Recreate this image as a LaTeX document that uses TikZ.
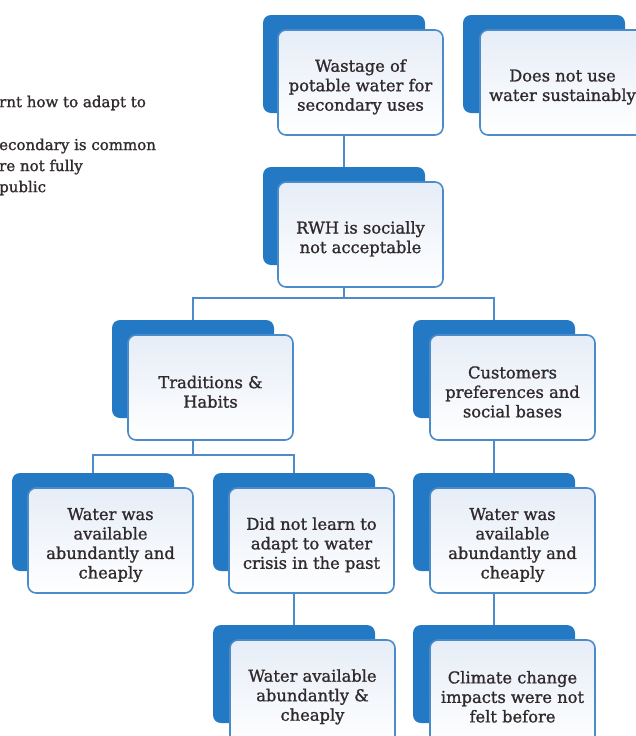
\documentclass[tikz,border=0pt]{standalone}
\usepackage{fontspec}
\setmainfont{DejaVu Serif}
\newfontfamily\cardfont{DejaVu Serif}[FakeBold=1.2]
\newcommand\lift{\rule{0pt}{21pt}}
\definecolor{backblue}{HTML}{2479C4}
\definecolor{edgeblue}{HTML}{4A8BCB}
\definecolor{linkblue}{HTML}{4D8CCB}
\definecolor{paleblue}{HTML}{E6EDF7}
\definecolor{ink}{HTML}{302A2D}
\begin{document}
\begin{tikzpicture}[x=1pt,y=-1pt,
  backbox/.style={fill=backblue, rounded corners=8pt, minimum width=162pt,
    minimum height=98pt, anchor=north west, inner sep=0pt, outer sep=0pt},
  frontbox/.style={draw=edgeblue, line width=1.6pt, rounded corners=8pt,
    top color=paleblue, bottom color=white, minimum width=165pt,
    minimum height=105pt, anchor=north west, inner sep=2pt, outer sep=0pt,
    align=center, text=ink, font=\cardfont\fontsize{16.3}{19.5}\selectfont},
  link/.style={draw=linkblue, line width=1.8pt},
  sidetext/.style={anchor=west, inner sep=0pt, text=ink,
    font=\cardfont\fontsize{15}{18}\selectfont}]
\useasboundingbox (0,0) rectangle (635,736);
\fill[white] (0,0) rectangle (635,736);

% junction points of the branching connectors
\coordinate (j1) at (344,298);
\coordinate (j2) at (193,455);

% back plates
\node[backbox] (wb)  at (263,15)  {};
\node[backbox] (sb)  at (463,15)  {};
\node[backbox] (rb)  at (263,167) {};
\node[backbox] (tb)  at (112,320) {};
\node[backbox] (cb)  at (413,320) {};
\node[backbox] (w1b) at (12,473)  {};
\node[backbox] (db)  at (213,473) {};
\node[backbox] (w2b) at (413,473) {};
\node[backbox] (ab)  at (213,625) {};
\node[backbox] (clb) at (413,625) {};

% front cards
\node[frontbox] (wf)  at (278,30)  {\lift Wastage of\\potable water for\\secondary uses};
\node[frontbox] (sf)  at (480,30)  {\lift Does not use\\water sustainably};
\node[frontbox] (rf)  at (278,182) {\lift RWH is socially\\not acceptable};
\node[frontbox] (tf)  at (128,335) {\lift Traditions \&\\Habits};
\node[frontbox] (cf)  at (430,335) {\lift Customers\\preferences and\\social bases};
\node[frontbox] (w1f) at (28,488)  {\lift Water was\\available\\abundantly and\\cheaply};
\node[frontbox] (df)  at (229,488) {\lift Did not learn to\\adapt to water\\crisis in the past};
\node[frontbox] (w2f) at (430,488) {\lift Water was\\available\\abundantly and\\cheaply};
\node[frontbox] (af)  at (230,640) {\lift Water available\\abundantly \&\\cheaply};
\node[frontbox] (clf) at (430,640) {\lift Climate change\\impacts were not\\felt before};

% connectors
\draw[link] (wf.south -| wb.north) -- (rb.north);
\draw[link] (rf.south -| rb.north) -- (j1);
\draw[link] (tb.north) |- (j1) -| (cb.north);
\draw[link] (tf.south -| tb.north) -- (j2);
\draw[link] (w1b.north) |- (j2) -| (db.north);
\draw[link] (cf.south -| cb.north) -- (w2b.north);
\draw[link] (df.south -| db.north) -- (ab.north);
\draw[link] (w2f.south -| w2b.north) -- (clb.north);

% running text at the left edge
\node[sidetext] (s1) at (-1,103) {rnt how to adapt to};
\node[sidetext] (s2) at (-1,146) {econdary is common};
\node[sidetext] (s3) at (-1,167) {re not fully};
\node[sidetext] (s4) at (-1,188) {public};
\end{tikzpicture}
\end{document}
